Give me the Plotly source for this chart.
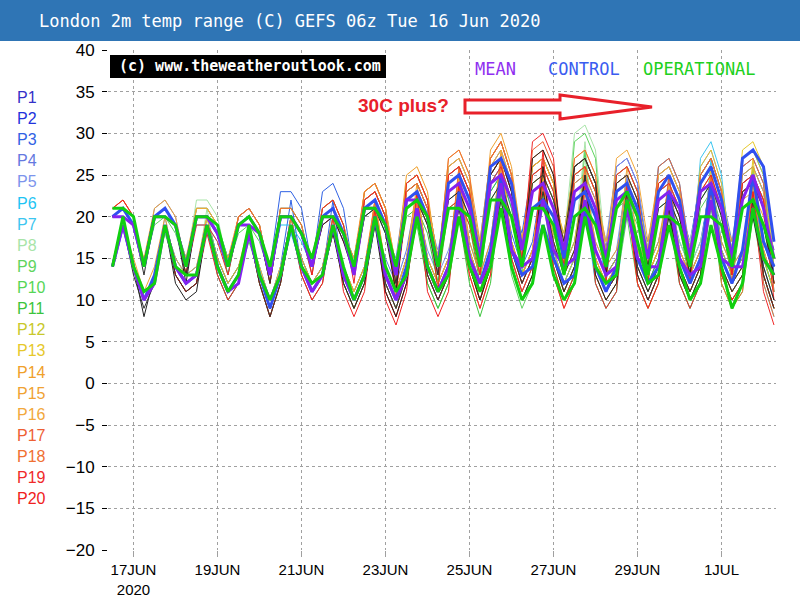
import pandas as pd
import plotly.graph_objects as go

# ---------------- data (6-hourly, 16 Jun 12Z .. 2 Jul 06Z) ----------------
START = "2020-06-16 12:00"
NPTS = 64

P1_HI = [20,21,19,14, 20,21,19,14, 20,20,18,14, 20,21,19,13, 20,20,18,15, 21,22,19,14, 22,23,20,12, 24,25,22,15, 25,26,23,15, 25,27,23,17, 23,24,21,18, 26,27,24,16, 26,27,24,15, 25,26,23,14, 24,26,22,16, 23,24,21,16]
P1_LO = [14,19,14,10, 13,19,14,12, 13,19,14,11, 13,19,13,9, 13,19,15,12, 14,20,13,10, 13,21,12,9, 13,23,15,12, 15,24,15,11, 15,25,17,13, 16,22,18,14, 17,25,16,13, 15,25,15,12, 15,24,14,11, 14,24,16,13, 15,22,17,13]
P2_HI = [20,21,19,14, 20,21,19,14, 21,21,19,15, 19,20,18,13, 21,21,19,14, 20,21,18,15, 22,23,20,13, 23,24,21,13, 26,27,24,16, 26,28,24,16, 25,26,23,15, 24,25,22,16, 22,23,20,17, 24,25,22,16, 25,27,23,15, 26,27,24,13]
P2_LO = [14,19,14,10, 13,19,14,12, 13,20,15,12, 14,18,13,9, 13,20,14,11, 13,19,14,11, 14,21,13,10, 14,22,13,10, 13,25,16,12, 16,26,16,12, 15,24,15,11, 14,23,16,13, 15,21,17,14, 17,23,16,13, 16,25,15,12, 14,25,14,10]
P3_HI = [20,21,19,14, 20,21,19,15, 20,20,18,14, 19,20,18,14, 23,23,21,14, 23,24,21,13, 21,22,19,14, 23,24,21,14, 25,26,23,14, 24,26,22,18, 26,27,24,16, 25,26,23,14, 25,26,23,16, 23,24,21,17, 24,26,22,16, 24,25,22,14]
P3_LO = [14,19,14,10, 13,19,15,13, 14,19,14,11, 13,18,14,10, 14,22,14,11, 13,22,12,9, 12,20,14,11, 15,22,14,11, 14,24,14,10, 14,24,18,14, 17,25,16,12, 15,24,14,11, 13,24,16,13, 16,22,17,14, 17,24,16,13, 15,23,15,11]
P4_HI = [20,21,19,14, 20,21,19,14, 20,20,18,13, 20,21,19,13, 20,20,18,15, 20,21,18,14, 20,21,18,15, 24,25,22,15, 24,25,22,17, 27,29,25,17, 24,25,22,17, 22,23,20,15, 24,25,22,14, 26,27,24,16, 25,27,23,17, 25,26,23,15]
P4_LO = [14,19,14,10, 13,19,14,12, 13,19,13,10, 12,19,13,9, 13,19,15,12, 14,19,13,10, 13,19,15,12, 16,23,15,12, 15,23,17,13, 17,27,17,13, 16,23,17,13, 16,21,15,12, 14,23,14,11, 14,25,16,13, 16,25,17,14, 16,24,16,12]
P5_HI = [20,21,19,14, 21,22,20,14, 20,20,18,14, 19,20,18,14, 20,20,18,14, 19,20,17,15, 22,23,20,13, 22,23,20,16, 22,23,20,16, 25,27,23,15, 26,27,24,16, 25,26,23,17, 26,27,24,16, 25,26,23,15, 26,28,24,14, 24,25,22,15]
P5_LO = [14,19,14,10, 13,20,14,12, 13,19,14,11, 13,18,14,10, 14,19,14,11, 13,18,14,11, 14,21,13,10, 14,21,16,13, 16,21,16,12, 16,25,15,11, 14,25,16,12, 15,24,17,14, 16,25,16,13, 16,24,15,12, 15,26,14,11, 13,23,16,12]
P6_HI = [20,21,19,14, 20,21,19,14, 20,20,18,15, 19,20,18,13, 19,19,17,14, 20,21,18,14, 21,22,19,12, 21,22,19,14, 24,25,22,14, 24,26,22,14, 23,24,21,15, 22,23,20,12, 23,24,21,14, 22,23,20,13, 25,27,23,13, 27,28,25,11]
P6_LO = [14,19,14,10, 13,19,14,12, 13,19,15,12, 14,18,13,9, 13,18,14,11, 13,19,13,10, 13,20,12,9, 13,20,14,11, 14,23,14,10, 14,24,14,10, 13,22,15,11, 14,21,12,9, 11,22,14,11, 14,21,13,10, 13,25,13,10, 12,26,12,8]
P7_HI = [20,21,19,14, 20,21,19,15, 19,19,17,14, 19,20,18,13, 20,20,18,13, 21,22,19,14, 21,22,19,14, 23,24,21,13, 23,24,21,15, 23,25,21,17, 25,26,23,16, 26,27,24,14, 24,25,22,13, 26,27,24,12, 27,29,25,14, 25,26,23,14]
P7_LO = [14,19,14,10, 13,19,15,13, 14,18,14,11, 13,18,13,9, 13,19,13,10, 12,20,13,10, 13,20,14,11, 15,22,13,10, 13,22,15,11, 15,23,17,13, 16,24,16,12, 15,25,14,11, 13,23,13,10, 13,25,12,9, 12,27,14,11, 13,24,15,11]
P8_HI = [20,21,19,14, 20,21,19,14, 22,22,20,14, 19,20,18,12, 20,20,18,14, 20,21,18,15, 22,23,20,13, 22,23,20,15, 22,23,20,15, 26,28,24,15, 25,26,23,17, 30,31,28,15, 23,24,21,16, 22,23,20,17, 23,25,21,15, 21,22,19,13]
P8_LO = [14,19,14,10, 13,19,14,12, 13,21,14,11, 13,18,12,8, 12,19,14,11, 13,19,14,11, 14,21,13,10, 14,21,15,12, 15,21,15,11, 15,26,15,11, 14,24,17,13, 16,29,15,12, 14,22,16,13, 16,21,17,14, 17,23,15,12, 14,20,14,10]
P9_HI = [20,21,19,14, 19,20,18,14, 21,21,19,15, 19,20,18,13, 20,20,18,15, 20,21,18,13, 20,21,18,13, 21,22,19,12, 23,24,21,14, 22,24,20,13, 23,24,21,14, 29,30,27,12, 25,26,23,13, 23,24,21,13, 21,23,19,14, 24,25,22,14]
P9_LO = [14,19,14,10, 13,18,14,12, 13,20,15,12, 14,18,13,9, 13,19,15,12, 14,19,12,9, 12,19,13,10, 14,20,12,9, 12,22,14,10, 14,22,13,9, 12,22,14,10, 13,28,12,9, 11,24,13,10, 13,22,13,10, 13,21,14,11, 13,23,15,11]
P10_HI = [20,21,19,14, 20,21,19,13, 20,20,18,14, 18,19,17,13, 20,20,18,14, 20,21,18,13, 23,24,21,12, 22,23,20,14, 24,25,22,16, 25,27,23,16, 26,27,24,15, 23,24,21,13, 21,22,19,12, 22,23,20,14, 24,26,22,13, 23,24,21,12]
P10_LO = [14,19,14,10, 13,19,13,11, 12,19,14,11, 13,17,13,9, 13,19,14,11, 13,19,12,9, 12,22,12,9, 13,21,14,11, 14,23,16,12, 16,25,16,12, 15,25,15,11, 14,22,13,10, 12,20,12,9, 12,21,14,11, 14,24,13,10, 12,22,13,9]
P11_HI = [20,21,19,14, 20,21,19,14, 20,20,18,13, 19,20,18,12, 21,21,19,14, 20,21,18,14, 21,22,19,13, 20,21,18,12, 21,22,19,12, 23,25,21,14, 24,25,22,14, 25,26,23,14, 22,23,20,15, 21,22,19,12, 22,24,20,12, 21,22,19,12]
P11_LO = [14,19,14,10, 13,19,14,12, 13,19,13,10, 12,18,12,8, 12,20,14,11, 13,19,13,10, 13,20,13,10, 14,19,12,9, 12,20,12,8, 12,23,14,10, 13,23,14,10, 13,24,14,11, 13,21,15,12, 15,20,12,9, 12,22,12,9, 11,20,13,9]
P12_HI = [20,21,19,14, 20,21,19,14, 20,20,18,14, 20,21,19,13, 20,20,18,14, 20,21,18,15, 22,23,20,14, 23,24,21,14, 25,26,23,16, 27,29,25,17, 26,27,24,16, 25,26,23,16, 23,24,21,16, 24,25,22,15, 25,27,23,16, 27,28,25,14]
P12_LO = [14,19,14,10, 13,19,14,12, 13,19,14,11, 13,19,13,9, 13,19,14,11, 13,19,14,11, 14,21,14,11, 15,22,14,11, 14,24,16,12, 16,27,17,13, 16,25,16,12, 15,24,16,13, 15,22,16,13, 16,23,15,12, 15,25,16,13, 15,26,15,11]
P13_HI = [20,21,19,14, 20,21,19,14, 21,21,19,14, 19,20,18,14, 20,20,18,14, 21,22,19,14, 23,24,21,13, 24,25,22,15, 26,27,24,14, 25,27,23,17, 24,25,22,18, 26,27,24,15, 24,25,22,16, 25,26,23,14, 26,28,24,15, 28,29,26,15]
P13_LO = [14,19,14,10, 13,19,14,12, 13,20,14,11, 13,18,14,10, 14,19,14,11, 13,20,13,10, 13,22,13,10, 14,23,15,12, 15,25,14,10, 14,25,17,13, 16,23,18,14, 17,25,15,12, 14,23,16,13, 16,24,14,11, 14,26,15,12, 14,27,16,12]
P14_HI = [21,22,20,14, 20,21,19,14, 20,20,18,15, 20,21,19,13, 21,21,19,14, 20,21,18,15, 23,24,21,14, 25,26,23,14, 27,28,25,17, 27,29,25,17, 26,27,24,15, 24,25,22,15, 25,26,23,14, 24,25,22,16, 23,25,21,17, 22,23,20,15]
P14_LO = [14,20,14,10, 13,19,14,12, 13,19,15,12, 14,19,13,9, 13,20,14,11, 13,19,14,11, 14,22,14,11, 15,24,14,11, 14,26,17,13, 17,27,17,13, 16,25,15,11, 14,23,15,12, 14,24,14,11, 14,23,16,13, 16,23,17,14, 16,21,16,12]
P15_HI = [20,21,19,15, 21,22,20,14, 20,20,18,14, 20,21,19,13, 20,20,18,15, 21,22,19,14, 22,23,20,13, 24,25,22,15, 24,25,22,15, 28,30,26,17, 26,27,24,17, 25,26,23,17, 22,23,20,16, 23,24,21,15, 24,26,22,14, 25,26,23,12]
P15_LO = [14,19,15,11, 14,20,14,12, 13,19,14,11, 13,19,13,9, 13,19,15,12, 14,20,13,10, 13,21,13,10, 14,23,15,12, 15,23,15,11, 15,28,17,13, 16,25,17,13, 16,24,17,14, 16,21,16,13, 16,22,15,12, 15,24,14,11, 13,24,13,9]
P16_HI = [20,21,19,14, 20,21,19,15, 21,21,19,14, 19,20,18,13, 20,20,18,14, 20,21,18,14, 23,24,21,14, 24,25,22,14, 26,27,24,16, 26,28,24,16, 25,26,23,17, 27,28,25,15, 27,28,25,17, 25,26,23,16, 24,26,22,15, 23,24,21,15]
P16_LO = [14,19,14,10, 13,19,15,13, 14,20,14,11, 13,18,13,9, 13,19,14,11, 13,19,13,10, 13,22,14,11, 15,23,14,11, 14,25,16,12, 16,26,16,12, 15,24,17,13, 16,26,15,12, 14,26,17,14, 17,24,16,13, 16,24,15,12, 14,22,16,12]
P17_HI = [21,22,20,14, 20,21,19,13, 20,20,18,14, 20,21,19,12, 20,20,18,14, 20,21,18,13, 22,23,20,11, 23,24,21,13, 25,26,23,13, 27,29,25,15, 28,29,26,13, 26,27,24,13, 24,25,22,13, 26,27,24,15, 25,27,23,14, 24,25,22,12]
P17_LO = [14,20,14,10, 13,19,13,11, 12,19,14,11, 13,19,12,8, 12,19,14,11, 13,19,12,9, 12,21,11,8, 12,22,13,10, 13,24,13,9, 13,27,15,11, 14,27,13,9, 12,25,13,10, 12,23,13,10, 13,25,15,12, 15,25,14,11, 13,23,13,9]
P18_HI = [20,21,19,14, 20,21,19,14, 20,20,18,14, 19,20,18,13, 21,21,19,13, 20,21,18,14, 23,24,21,12, 23,24,21,14, 27,28,25,14, 27,29,25,14, 27,28,25,15, 27,28,25,14, 23,24,21,12, 22,23,20,13, 25,27,23,12, 26,27,24,11]
P18_LO = [14,19,14,10, 13,19,14,12, 13,19,14,11, 13,18,13,9, 13,20,13,10, 12,19,13,10, 13,22,12,9, 13,22,14,11, 14,26,14,10, 14,27,14,10, 13,26,15,11, 14,26,14,11, 13,22,12,9, 12,21,13,10, 13,25,12,9, 11,25,12,8]
P19_HI = [20,21,19,14, 20,21,19,13, 19,19,17,13, 19,20,18,13, 20,20,18,14, 19,20,17,14, 21,22,19,11, 21,22,19,13, 21,22,19,13, 24,26,22,15, 29,30,27,13, 25,26,23,12, 25,26,23,13, 23,24,21,12, 24,26,22,13, 23,24,21,10]
P19_LO = [14,19,14,10, 13,19,13,11, 12,18,13,10, 12,18,13,9, 13,19,14,11, 13,18,13,10, 13,20,11,8, 12,20,13,10, 13,20,13,9, 13,24,15,11, 14,28,13,9, 12,24,12,9, 11,24,13,10, 13,22,12,9, 12,24,13,10, 12,22,11,7]
P20_HI = [21,22,20,14, 20,21,19,13, 20,20,18,14, 19,20,18,12, 20,20,18,13, 21,22,19,12, 22,23,20,10, 24,25,22,11, 25,26,23,14, 25,27,23,16, 25,26,23,14, 23,24,21,14, 23,24,21,12, 24,25,22,14, 23,25,21,13, 24,25,22,12]
P20_LO = [14,20,14,10, 13,19,13,11, 12,19,14,11, 13,18,12,8, 12,19,13,10, 12,20,11,8, 11,21,10,7, 11,23,11,8, 11,24,14,10, 14,25,16,12, 15,24,14,10, 13,22,14,11, 13,22,12,9, 12,23,14,11, 14,23,13,10, 12,23,13,9]
BLK1_HI = [20,21,19,14, 20,21,19,12, 20,20,18,14, 19,20,18,13, 20,20,18,14, 19,20,17,13, 20,21,18,11, 22,23,20,14, 22,23,20,14, 25,27,23,14, 27,28,25,15, 26,27,24,13, 23,24,21,14, 22,23,20,13, 24,26,22,15, 21,22,19,13]
BLK1_LO = [14,19,14,8, 13,19,12,10, 11,19,14,11, 13,18,13,9, 13,19,14,11, 13,18,12,9, 12,19,11,8, 12,21,14,11, 14,21,14,10, 14,25,14,10, 13,26,15,11, 14,25,13,10, 12,22,14,11, 14,21,13,10, 13,24,15,12, 14,20,14,10]
BLK2_HI = [20,21,19,13, 20,21,19,13, 20,20,18,14, 19,20,18,12, 20,20,18,14, 20,21,18,14, 21,22,19,12, 21,22,19,13, 23,24,21,15, 22,24,20,16, 24,25,22,17, 26,27,24,14, 24,25,22,13, 21,22,19,14, 22,24,20,14, 23,24,21,12]
BLK2_LO = [14,19,13,9, 12,19,13,11, 12,19,14,11, 13,18,12,8, 12,19,14,11, 13,19,13,10, 13,20,12,9, 13,20,13,10, 13,22,15,11, 15,22,16,12, 15,23,17,13, 16,25,14,11, 13,23,13,10, 13,20,14,11, 14,22,14,11, 13,22,13,9]
CONTROL_HI = [20,21,19,14, 20,21,19,14, 20,20,18,14, 19,20,18,13, 20,20,18,14, 20,21,18,14, 21,22,19,13, 22,23,20,14, 24,25,22,15, 26,27,24,16, 21,22,20,15, 22,23,20,14, 23,24,21,15, 23,25,22,15, 24,26,22,15, 27,28,26,17]
CONTROL_LO = [14,19,14,10, 13,19,14,12, 13,19,14,11, 13,18,13,9, 13,19,14,11, 13,19,13,10, 13,20,13,10, 14,21,14,11, 14,23,15,12, 16,25,16,13, 14,19,15,12, 13,21,14,11, 14,22,15,12, 14,23,15,12, 15,24,15,12, 16,25,17,14]
MEAN_HI = [20,20,19,14, 20,20,19,14, 20,20,18,14, 19,19,18,13, 20,20,18,14, 20,20,18,13, 21,21,19,13, 22,22,20,14, 23,24,21,15, 24,25,22,16, 23,24,21,16, 23,24,21,15, 22,23,20,15, 22,23,21,15, 23,24,21,15, 22,25,21,15]
MEAN_LO = [14,19,14,10, 12,19,14,12, 13,19,14,11, 12,18,13,10, 13,19,14,11, 13,19,13,10, 13,20,13,10, 13,21,14,11, 14,22,15,12, 15,24,16,14, 15,22,16,14, 15,22,16,13, 14,21,15,14, 14,22,15,13, 14,22,15,14, 14,21,15,13]
OPER_HI = [21,21,20,14, 20,20,19,14, 20,20,19,14, 19,20,18,14, 20,20,18,15, 20,20,18,14, 21,21,19,14, 21,22,20,14, 21,21,20,14, 22,22,20,14, 21,21,19,13, 20,21,19,14, 21,23,20,13, 20,20,19,14, 20,20,19,14, 21,22,19,15]
OPER_LO = [14,20,14,11, 12,19,14,13, 13,19,14,11, 13,19,13,10, 13,19,14,12, 13,19,14,10, 13,20,14,11, 13,20,14,11, 13,20,14,11, 14,21,14,10, 12,19,13,10, 12,20,14,12, 13,22,17,12, 13,19,14,10, 12,19,14,9, 12,21,15,13]

MEMBER_NAMES = ["P%d" % i for i in range(1, 21)]
MEMBER_COLORS = ["#3430c8", "#2232dc", "#3062e4", "#6478e0", "#7c94ec", "#1ec4f4",
                 "#3cc6f0", "#a8e4a8", "#5ed45e", "#56d656", "#3cc43c", "#c8c82a",
                 "#e6c82a", "#f0a02a", "#f0a232", "#f2a83c", "#ee6034", "#f07032",
                 "#f02a2a", "#f02020"]
MEMBER_HI = [P1_HI, P2_HI, P3_HI, P4_HI, P5_HI, P6_HI, P7_HI, P8_HI, P9_HI, P10_HI,
             P11_HI, P12_HI, P13_HI, P14_HI, P15_HI, P16_HI, P17_HI, P18_HI, P19_HI, P20_HI]
MEMBER_LO = [P1_LO, P2_LO, P3_LO, P4_LO, P5_LO, P6_LO, P7_LO, P8_LO, P9_LO, P10_LO,
             P11_LO, P12_LO, P13_LO, P14_LO, P15_LO, P16_LO, P17_LO, P18_LO, P19_LO, P20_LO]

TICK_DATES = ["2020-06-17", "2020-06-19", "2020-06-21", "2020-06-23",
              "2020-06-25", "2020-06-27", "2020-06-29", "2020-07-01"]
TICK_TEXT = ["17JUN<br>2020", "19JUN", "21JUN", "23JUN", "25JUN", "27JUN", "29JUN", "1JUL"]
Y_TICKS = list(range(-20, 45, 5))

TITLE = "London 2m temp range (C) GEFS 06z Tue 16 Jun 2020"
COPYRIGHT = "(c) www.theweatheroutlook.com"

# ---------------- figure ----------------
times = pd.date_range(START, periods=NPTS, freq="6h")

fig = go.Figure()

def add_pair(hi, lo, color, width, name):
    for arr in (hi, lo):
        fig.add_trace(go.Scatter(x=times, y=arr, mode="lines", name=name,
                                 line=dict(color=color, width=width),
                                 showlegend=False, hoverinfo="skip"))

for name, col, hi, lo in zip(MEMBER_NAMES, MEMBER_COLORS, MEMBER_HI, MEMBER_LO):
    add_pair(hi, lo, col, 1, name)
add_pair(BLK1_HI, BLK1_LO, "#202020", 1, "extra1")
add_pair(BLK2_HI, BLK2_LO, "#303030", 1, "extra2")
add_pair(CONTROL_HI, CONTROL_LO, "#3050f0", 3, "CONTROL")
add_pair(MEAN_HI, MEAN_LO, "#8422f0", 3, "MEAN")
add_pair(OPER_HI, OPER_LO, "#10d010", 3, "OPERATIONAL")

# pixel -> paper helpers (plot area 108..776 x 50..550)
L, R, T, B = 108, 776, 50, 550
def px(xp):
    return (xp - L) / (R - L)
def py(yp):
    return (B - yp) / (B - T)

GRID = "#a0a0a0"
fig.update_layout(
    width=800, height=600,
    margin=dict(l=L, r=800 - R, t=T, b=600 - B),
    paper_bgcolor="white", plot_bgcolor="white",
    font=dict(family="Liberation Sans, Arial, sans-serif", color="black"),
    xaxis=dict(type="date", range=["2020-06-16 09:26", "2020-07-02 07:09"],
               tickvals=TICK_DATES, ticktext=TICK_TEXT, automargin=False,
               showgrid=True, gridcolor=GRID, griddash="dot", gridwidth=1,
               ticks="outside", ticklen=6, tickcolor=GRID,
               tickfont=dict(size=15, color="black"),
               showline=False, zeroline=False),
    yaxis=dict(range=[-20, 40], tickvals=Y_TICKS, automargin=False,
               showgrid=True, gridcolor=GRID, griddash="dot", gridwidth=1,
               ticks="outside", ticklen=5, tickcolor="black",
               ticklabelstandoff=4,
               tickfont=dict(size=17, color="black"),
               showline=False, zeroline=False),
)

shapes = []
# title bar
shapes.append(dict(type="rect", xref="paper", yref="paper",
                   x0=px(0), x1=px(800), y0=py(41), y1=py(0),
                   fillcolor="#2f75b5", line=dict(width=0), layer="above"))
# copyright box
shapes.append(dict(type="rect", xref="paper", yref="paper",
                   x0=px(110), x1=px(386), y0=py(78), y1=py(55),
                   fillcolor="black", line=dict(width=0), layer="above"))
# hollow arrow
pts = [(465, 100), (560, 100), (560, 95), (652, 107), (560, 119), (560, 113), (465, 113)]
path = "M " + " L ".join("%.5f,%.5f" % (px(a), py(b)) for a, b in pts) + " Z"
shapes.append(dict(type="path", xref="paper", yref="paper", path=path,
                   fillcolor="white", line=dict(color="#e8202a", width=3), layer="above"))

ann = []
ann.append(dict(text=TITLE, xref="paper", yref="paper", x=px(37), y=py(21),
                xanchor="left", yanchor="middle", showarrow=False,
                font=dict(family="DejaVu Sans Mono", size=17, color="white")))
ann.append(dict(text="<b>" + COPYRIGHT + "</b>", xref="paper", yref="paper",
                x=px(117), y=py(66), xanchor="left", yanchor="middle", showarrow=False,
                font=dict(family="DejaVu Sans Mono", size=15, color="white")))
for txt, xp, col in (("MEAN", 473, "#9030f0"), ("CONTROL", 546, "#3a5cf0"),
                     ("OPERATIONAL", 641, "#20d020")):
    ann.append(dict(text=txt, xref="paper", yref="paper", x=px(xp), y=py(69),
                    xanchor="left", yanchor="middle", showarrow=False,
                    font=dict(family="DejaVu Sans Mono", size=17, color=col)))
ann.append(dict(text="<b>30C plus?</b>", xref="paper", yref="paper", x=px(356), y=py(105),
                xanchor="left", yanchor="middle", showarrow=False,
                font=dict(family="Liberation Sans, Arial", size=19, color="#e8202a")))
for i, (name, col) in enumerate(zip(MEMBER_NAMES, MEMBER_COLORS)):
    ann.append(dict(text=name, xref="paper", yref="paper", x=px(15), y=py(97.3 + i * 21.14),
                    xanchor="left", yanchor="middle", showarrow=False,
                    font=dict(family="Liberation Sans, Arial", size=16, color=col)))

fig.update_layout(shapes=shapes, annotations=ann)
fig.write_html("out.html")
